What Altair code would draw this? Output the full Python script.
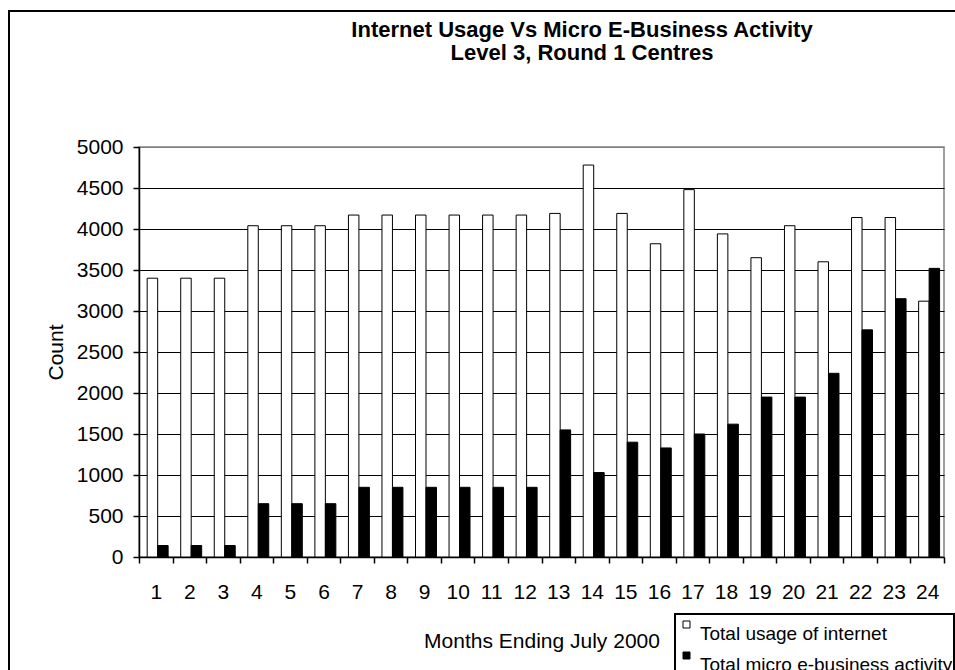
import altair as alt
import pandas as pd

# ---- data ----
months = list(range(1, 25))
usage = [3400, 3400, 3400, 4040, 4040, 4040, 4170, 4170, 4170, 4170, 4170, 4170,
         4190, 4780, 4190, 3820, 4480, 3940, 3650, 4040, 3600, 4140, 4140, 3120]
activity = [140, 140, 140, 650, 650, 650, 850, 850, 850, 850, 850, 850,
            1550, 1030, 1400, 1330, 1500, 1620, 1950, 1950, 2240, 2770, 3150, 3520]
series_names = ["Total usage of internet", "Total micro e-business activity"]
y_ticks = list(range(0, 5001, 500))
title_lines = ["Internet Usage Vs Micro E-Business Activity", "Level 3, Round 1 Centres"]

rows = []
for m, u, a in zip(months, usage, activity):
    rows.append({"month": m, "series": series_names[0], "count": u})
    rows.append({"month": m, "series": series_names[1], "count": a})
df = pd.DataFrame(rows)

FONT = "Liberation Sans"

bars = alt.Chart(df).mark_bar(stroke="black", strokeWidth=1).encode(
    x=alt.X(
        "month:O",
        scale=alt.Scale(paddingInner=0, paddingOuter=0),
        axis=alt.Axis(
            title="Months Ending July 2000",
            labelAngle=0,
            tickBand="extent",
            tickSize=6,
            labelPadding=18,
            domainColor="black",
            tickColor="black",
            domainWidth=1.5,
            tickWidth=1.5,
            titleY=90,
            titleBaseline="alphabetic",
            grid=False,
        ),
    ),
    xOffset=alt.XOffset(
        "series:N",
        sort=series_names,
        scale=alt.Scale(paddingOuter=0.6, paddingInner=0, align=0.65),
    ),
    y=alt.Y(
        "count:Q",
        scale=alt.Scale(domain=[0, 5000], nice=False),
        axis=alt.Axis(
            values=y_ticks,
            format="d",
            title="Count",
            tickSize=6,
            labelPadding=10,
            domainColor="black",
            tickColor="black",
            domainWidth=1.5,
            tickWidth=1.5,
            grid=True,
            gridColor=alt.condition("datum.value >= 5000", alt.value("#808080"), alt.value("black")),
            gridWidth=1,
            titleAngle=270,
            titleBaseline="alphabetic",
            titleX=-77,
            titleY=205,
        ),
    ),
    fill=alt.Fill(
        "series:N",
        sort=series_names,
        scale=alt.Scale(domain=series_names, range=["white", "black"]),
        legend=alt.Legend(title=None, labelExpr="datum.label + '    '"),
    ),
)

one = pd.DataFrame({"k": [0]})

frame_top = alt.Chart(one).mark_rule(color="black", strokeWidth=2).encode(
    x=alt.value(-131), x2=alt.value(900), y=alt.value(-136),
)
frame_left = alt.Chart(one).mark_rule(color="black", strokeWidth=2).encode(
    x=alt.value(-130), y=alt.value(-137), y2=alt.value(600),
)

title = alt.Chart(one).mark_text(
    text=title_lines,
    font=FONT,
    fontSize=22,
    fontWeight="bold",
    color="black",
    align="center",
    baseline="alphabetic",
    lineHeight=23,
).encode(
    x=alt.value(443),
    y=alt.value(-110),
)

chart = alt.layer(frame_top, frame_left, title, bars).properties(
    width=805,
    height=410,
    autosize=alt.AutoSizeParams(type="none"),
    padding={"left": 139, "top": 147, "right": 11, "bottom": 113},
    background="white",
).configure_view(
    stroke="#808080", strokeWidth=1.5
).configure_axis(
    labelFont=FONT, titleFont=FONT, labelFontSize=21, titleFontSize=21,
    labelColor="black", titleColor="black", titleFontWeight="normal",
).configure_legend(
    orient="none", legendX=536, legendY=467,
    strokeColor="black", strokeWidth=2, fillColor="white", padding=1,
    labelFont=FONT, labelFontSize=19, labelColor="black", labelBaseline="top",
    labelLimit=600, labelOffset=4, rowPadding=2, symbolOffset=1,
    symbolType="square", symbolSize=49, symbolStrokeColor="black", symbolStrokeWidth=1,
)

chart.save("out.html", embed_options={"renderer": "svg", "actions": False})
